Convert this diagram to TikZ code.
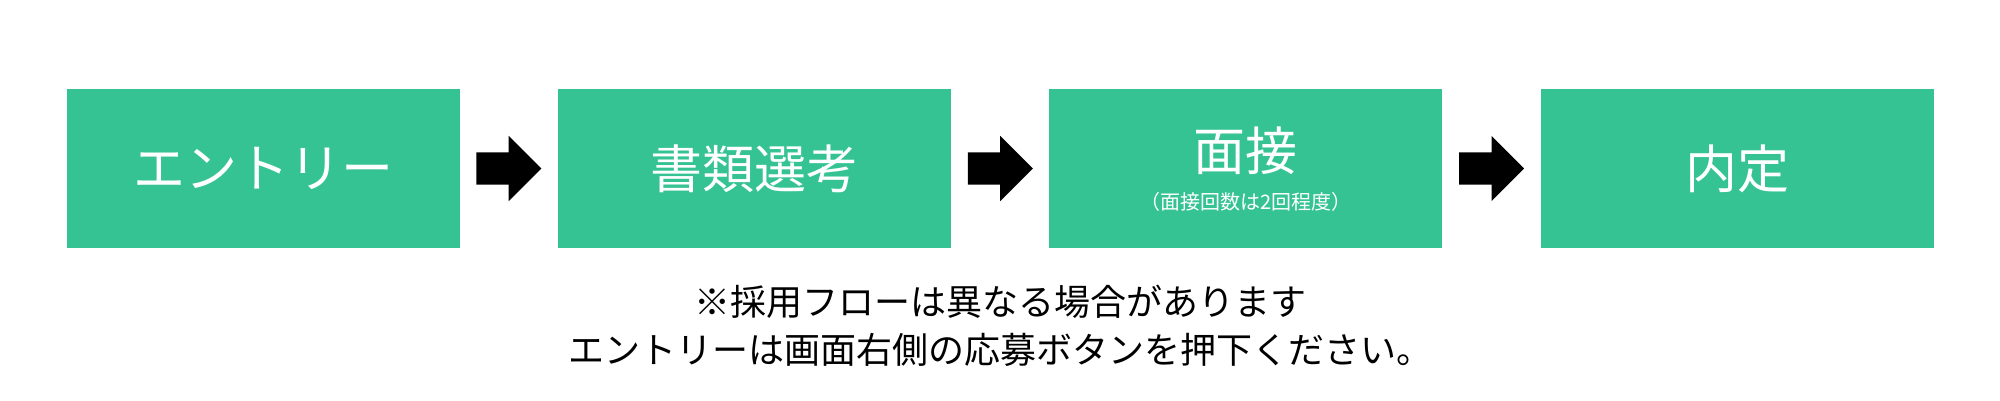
\documentclass[tikz,border=0pt]{standalone}
\usepackage{fontspec}
\setmainfont{Noto Sans CJK JP}
\usepackage{tikz}
\usetikzlibrary{positioning,shapes.arrows,calc}
\definecolor{stagegreen}{RGB}{53,195,148}

\begin{document}
\begin{tikzpicture}[
x=1pt,y=-1pt,
stage/.style={
rectangle,
minimum width=393pt,
minimum height=159pt,
inner sep=0pt,
draw=none,
fill=stagegreen,
text=white,
font=\fontsize{52}{62}\selectfont
},
stagetext/.style={
draw=none,
fill=none,
text=white,
inner sep=0pt,
font=\fontsize{52}{62}\selectfont
},
subnote/.style={
draw=none,
fill=none,
text=white,
inner sep=0pt,
font=\fontsize{20}{24}\selectfont
},
flowarrow/.style={
single arrow,
single arrow head extend=16.5pt,
text height=16pt,
text depth=16pt,
minimum height=65pt,
inner sep=0pt,
fill=black,
draw=none,
anchor=tail,
xshift=-32.5pt
},
note/.style={
draw=none,
fill=none,
color=black,
inner sep=0pt,
font=\fontsize{36}{48}\selectfont
}]

\useasboundingbox (0,0) rectangle (2000,400);

\node [stage] (entry) at (263,168.5) {エントリー};
\node [stage,right=98pt of entry] (screen) {書類選考};
\node [stage,right=98pt of screen] (interview) {};
\node [stage,right=98pt of interview] (offer) {内定};

\node [stagetext] (interviewtitle) at ($(interview.center)+(0,-17.5)$) {面接};
\node [subnote] (interviewnote) at ($(interview.center)+(0,33.5)$) {（面接回数は2回程度）};

\node [flowarrow] (arrow1) at ($(entry.east)!0.5!(screen.west)$) {};
\node [flowarrow] (arrow2) at ($(screen.east)!0.5!(interview.west)$) {};
\node [flowarrow] (arrow3) at ($(interview.east)!0.5!(offer.west)$) {};

\node [note] (caution) at (1000,302) {※採用フローは異なる場合があります};
\node [note] (apply) at (1000,350) {エントリーは画面右側の応募ボタンを押下ください。};

\end{tikzpicture}
\end{document}
